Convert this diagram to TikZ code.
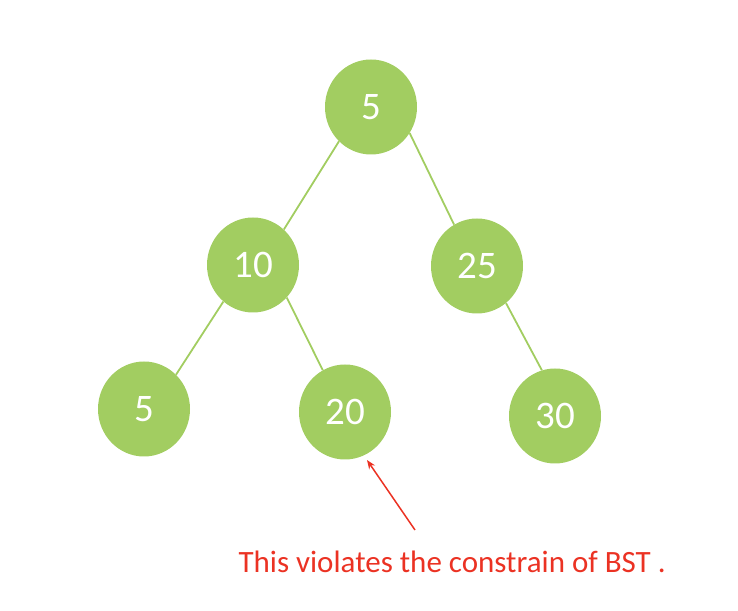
\documentclass[tikz,border=0pt]{standalone}
\usepackage{fontspec}
\setmainfont{Carlito}
\usepackage{xcolor}
\usepackage{tikz}
\usetikzlibrary{positioning,shapes.geometric,arrows.meta}

\definecolor{leafgreen}{HTML}{A2CD61}
\definecolor{warnred}{HTML}{EB3223}

\begin{document}
\begin{tikzpicture}[
x=1pt,y=1pt,
bst/.style={
  ellipse,
  fill=leafgreen,
  minimum width=92pt,
  minimum height=95pt,
  inner sep=0pt,
  text=white,
  font=\fontsize{39}{44}\selectfont
},
edge/.style={
  draw=leafgreen,
  line width=1.8pt
},
note/.style={
  text=warnred,
  font=\fontsize{31}{36}\selectfont
}
]
\useasboundingbox (0,0) rectangle (738,610);

\node[bst] (root) at (371,503) {5};
\node[bst] (n10) at (253,345) {10};
\node[bst] (n25) at (477,344) {25};
\node[bst] (n5) at (144,201) {5};
\node[bst] (n20) at (345,198) {20};
\node[bst] (n30) at (555,194) {30};

\draw[edge] (root.-133) -- (n10.49);
\draw[edge] (root.-34) -- (n25.119);
\draw[edge] (n10.-129) -- (n5.47);
\draw[edge] (n10.-44) -- (n20.118);
\draw[edge] (n25.-52) -- (n30.106);

\node[note,anchor=base west] (msg) at (235,38) {This violates the constrain of BST .};
\coordinate (tail) at (415,80);
\coordinate (hit) at (367,150);

\draw[-{Stealth[length=9pt,width=7pt]},draw=warnred,line width=1.5pt] (tail) -- (hit);

\end{tikzpicture}
\end{document}
